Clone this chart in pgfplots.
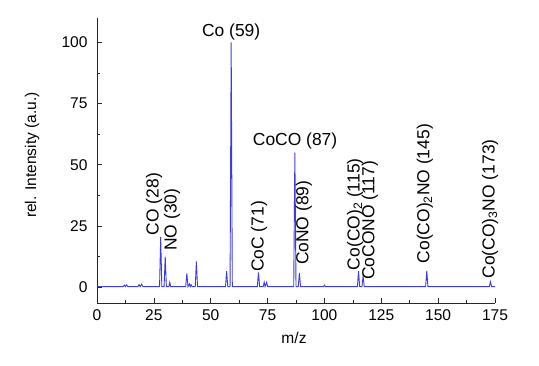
\documentclass[border=0pt]{standalone}
\usepackage{pgfplots}
\pgfplotsset{compat=1.18}
\usepackage{fontspec}
\setmainfont{Liberation Sans}
\definecolor{specblue}{RGB}{60,60,220}
\begin{document}
\begin{tikzpicture}
\path[use as bounding box] (0,0) rectangle (539bp,366bp);
\begin{axis}[
  at={(97bp,63bp)}, anchor=south west,
  scale only axis, width=398bp, height=285bp,
  xmin=0, xmax=175, ymin=-6.5, ymax=110,
  axis x line*=bottom, axis y line*=left,
  axis line style={black!85, line width=0.8bp},
  xtick={0,25,...,175}, ytick={0,25,50,75,100},
  minor x tick num=1, minor y tick num=1,
  tick align=inside,
  major tick length=5bp, minor tick length=3bp,
  tick style={black!85, line width=0.7bp},
  /pgf/number format/assume math mode=true,
  ticklabel style={font=\fontsize{15.6}{17}\selectfont},
  xticklabel shift=3.5bp, yticklabel shift=6bp,
  xlabel={m/z}, ylabel={rel. Intensity (a.u.)},
  label style={font=\fontsize{15.6}{17}\selectfont},
  xlabel style={at={(axis description cs:0.495,-0.123)}, anchor=center},
  ylabel style={at={(axis description cs:-0.163,0.519)}, anchor=center},
  clip=false,
]
\addplot[specblue, line width=0.9bp] coordinates {
(0,0.2)(10,0.2)(11.5,0.2)(12,0.8)(12.5,0.2)(13,0.9)(13.5,0.2)(18,0.2)(18.5,1.0)(19,0.2)(19.6,1.2)(20.2,0.2)
(27.5,0.2)(28,20.5)(28.5,0.2)(29.5,0.2)(30,12.5)(30.5,0.2)(31.6,0.2)(32,2)(32.4,0.2)
(39,0.2)(39.5,5.6)(40,0.2)(40.6,1.3)(41,0.2)(41.4,1.0)(41.8,0.2)(43.2,0.2)(43.7,10.5)(44.2,0.2)
(56.5,0.2)(57,6.5)(57.5,0.2)(58.5,0.2)(59,100)(59.5,0.2)
(70.5,0.2)(71,6)(71.5,0.2)(73.1,0.2)(73.5,2)(73.9,0.2)(74.6,2)(75,0.2)
(86.5,0.2)(87,55)(87.5,0.2)(88.5,0.2)(89,5.8)(89.5,0.2)
(99.6,0.2)(100,0.8)(100.4,0.2)
(114.5,0.2)(115,6.5)(115.5,0.2)(116.5,0.2)(117,4.5)(117.5,0.2)
(144.5,0.2)(145,6.6)(145.5,0.2)
(172.5,0.2)(173,2.2)(173.5,0.2)(175,0.2)
};
\begin{scope}[every node/.style={font=\fontsize{17.5}{19}\selectfont, inner sep=0pt}]
\node[anchor=center] at (axis cs:59,104.4) {Co (59)};
\node[anchor=center] at (axis cs:87.1,59.6) {CoCO (87)};
\node[anchor=west, rotate=90] at (axis cs:25.1,21.2) {CO (28)};
\node[anchor=west, rotate=90] at (axis cs:33.0,14.8) {NO (30)};
\node[anchor=west, rotate=90] at (axis cs:71.3,6.2) {CoC (71)};
\node[anchor=west, rotate=90] at (axis cs:91,9.0) {CoNO (89)};
\node[anchor=west, rotate=90] at (axis cs:113.5,6.9) {Co(CO)\textsubscript{2} (115)};
\node[anchor=west, rotate=90] at (axis cs:120,2.9) {CoCONO (117)};
\node[anchor=west, rotate=90] at (axis cs:144.2,9.7) {Co(CO)\textsubscript{2}NO (145)};
\node[anchor=west, rotate=90] at (axis cs:172.8,3.5) {Co(CO)\textsubscript{3}NO (173)};
\end{scope}
\end{axis}
\end{tikzpicture}
\end{document}
